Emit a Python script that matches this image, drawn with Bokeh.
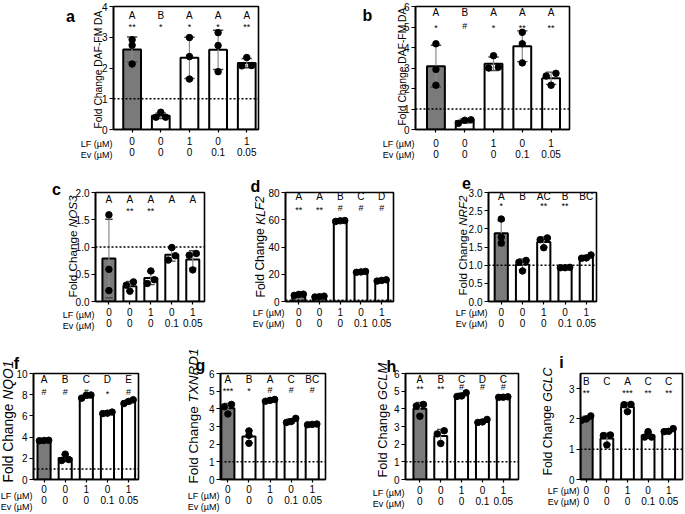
import math
from bokeh.plotting import figure
from bokeh.layouts import column, row
from bokeh.models import FixedTicker, LinearAxis, Range1d, Span, NumeralTickFormatter, GridBox
from bokeh.core.properties import value
from bokeh.embed import file_html
from bokeh.resources import INLINE

FONT = "Liberation Sans"

# ---------------- data ----------------
GROUPS = [0, 1, 2, 3, 4]
LF_DOSE = ["0", "0", "1", "0", "1"]
EV_DOSE = ["0", "0", "0", "0.1", "0.05"]

A_MEAN = [2.60, 0.45, 2.33, 2.59, 2.16]
A_SD = [0.41, 0.09, 0.67, 0.64, 0.15]
A_PTS = [[2.92, 2.74, 2.13], [0.56, 0.40, 0.40], [2.99, 2.37, 1.64], [3.15, 2.73, 1.88], [2.34, 2.08, 2.07]]
A_LET = ["A", "B", "A", "A", "A"]
A_SIG = ["**", "*", "*", "*", "**"]

B_MEAN = [3.09, 0.41, 3.21, 4.06, 2.50]
B_SD = [1.02, 0.09, 0.33, 0.75, 0.30]
B_PTS = [[4.18, 2.93, 2.16], [0.30, 0.45, 0.47], [3.60, 3.00, 3.04], [4.74, 4.18, 3.25], [2.74, 2.61, 2.16]]
B_LET = ["A", "B", "A", "A", "A"]
B_SIG = ["*", "#", "*", "**", "**"]

C_MEAN = [0.79, 0.28, 0.43, 0.86, 0.77]
C_SD = [0.72, 0.09, 0.12, 0.12, 0.16]
C_PTS = [[1.59, 0.59, 0.20], [0.36, 0.30, 0.19], [0.56, 0.40, 0.33], [0.99, 0.84, 0.76], [0.88, 0.85, 0.58]]
C_LET = ["A", "A", "A", "A", "A"]
C_SIG = ["", "**", "**", "", ""]

D_MEAN = [5.0, 3.6, 59.1, 21.7, 15.5]
D_SD = [0.5, 0.3, 0.3, 0.35, 0.45]
D_PTS = [[5.4, 5.2, 4.5], [3.9, 3.5, 3.3], [59.4, 59.2, 58.8], [22.1, 21.7, 21.4], [15.9, 15.5, 15.0]]
D_LET = ["A", "A", "B", "C", "D"]
D_SIG = ["**", "**", "#", "#", "#"]

E_MEAN = [1.88, 1.02, 1.64, 0.93, 1.22]
E_SD = [0.35, 0.15, 0.14, 0.01, 0.05]
E_PTS = [[2.27, 1.77, 1.61], [1.13, 1.08, 0.84], [1.75, 1.70, 1.48], [0.94, 0.93, 0.93], [1.28, 1.20, 1.19]]
E_LET = ["A", "B", "AC", "B", "BC"]
E_SIG = ["*", "", "**", "**", ""]

F_MEAN = [3.68, 2.02, 7.86, 6.28, 7.35]
F_SD = [0.02, 0.32, 0.17, 0.07, 0.18]
F_PTS = [[3.70, 3.68, 3.66], [2.39, 1.88, 1.79], [7.97, 7.95, 7.67], [6.36, 6.26, 6.22], [7.52, 7.37, 7.16]]
F_LET = ["A", "B", "C", "D", "E"]
F_SIG = ["#", "#", "#", "*", "#"]

G_MEAN = [4.03, 2.43, 4.48, 3.32, 3.12]
G_SD = [0.28, 0.35, 0.05, 0.12, 0.02]
G_PTS = [[4.25, 4.12, 3.71], [2.75, 2.50, 2.05], [4.53, 4.48, 4.43], [3.46, 3.28, 3.23], [3.14, 3.12, 3.10]]
G_LET = ["A", "B", "A", "C", "BC"]
G_SIG = ["***", "*", "#", "#", "#"]

H_MEAN = [4.00, 2.46, 4.78, 3.30, 4.66]
H_SD = [0.36, 0.37, 0.11, 0.09, 0.02]
H_PTS = [[4.25, 4.16, 3.58], [2.76, 2.58, 2.04], [4.91, 4.73, 4.70], [3.40, 3.26, 3.23], [4.68, 4.66, 4.65]]
H_LET = ["A", "B", "C", "D", "C"]
H_SIG = ["**", "**", "#", "#", "#"]

I_MEAN = [2.02, 1.35, 2.40, 1.46, 1.62]
I_SD = [0.07, 0.18, 0.14, 0.10, 0.06]
I_PTS = [[2.10, 2.00, 1.96], [1.47, 1.45, 1.14], [2.48, 2.47, 2.24], [1.58, 1.40, 1.40], [1.68, 1.59, 1.58]]
I_LET = ["B", "C", "A", "C", "C"]
I_SIG = ["**", "", "***", "**", "**"]

A_Y = (4, [0, 1, 2, 3, 4])
B_Y = (6, [0, 1, 2, 3, 4, 5, 6])
C_Y = (2, [0, 0.5, 1.0, 1.5, 2.0])
D_Y = (80, [0, 20, 40, 60, 80])
E_Y = (3, [0, 0.5, 1.0, 1.5, 2.0, 2.5, 3.0])
F_Y = (10, [0, 2, 4, 6, 8, 10])
G_Y = (6, [0, 1, 2, 3, 4, 5, 6])
H_Y = (6, [0, 1, 2, 3, 4, 5, 6])
I_Y = (3.5, [0, 1, 2, 3])

ADV = {" ": 278, "F": 611, "o": 556, "l": 222, "d": 556, "C": 722, "h": 556, "a": 556,
       "n": 556, "g": 556, "e": 556}

W_PAGE, H_PAGE = 684, 513


def text_w(s, fs):
    return sum(ADV.get(ch, 600) for ch in s) * fs / 1000.0


def jitter(vals, thr):
    order = sorted(range(len(vals)), key=lambda k: vals[k])
    clusters, cur = [], [order[0]]
    for k in order[1:]:
        if vals[k] - vals[cur[-1]] < thr:
            cur.append(k)
        else:
            clusters.append(cur)
            cur = [k]
    clusters.append(cur)
    offs = [0.0] * len(vals)
    for cl in clusters:
        n = len(cl)
        step = 0.34 if n == 2 else 0.22
        for j, k in enumerate(cl):
            offs[k] = (j - (n - 1) / 2) * step
    return offs


# texts that sit outside the plot frames (page pixel coordinates, y downwards)
OV = {"x": [], "y": [], "text": [], "angle": [], "align": [], "style": [], "size": []}


def ov(x, y, text, angle=0.0, align="center", style="normal", size="10px"):
    OV["x"].append(x)
    OV["y"].append(y)
    OV["text"].append(text)
    OV["angle"].append(angle)
    OV["align"].append(align)
    OV["style"].append(style)
    OV["size"].append(size)


def panel(letter, origin, geo, yinfo, mean, sd, pts, lets, sigs, gene, look):
    ox, oy = origin
    w, h, bl, br, bt, bb, x0, x1 = geo
    ymax, yticks = yinfo
    fh = h - bt - bb
    p = figure(width=w, height=h, x_range=Range1d(x0, x1), y_range=Range1d(0, ymax),
               output_backend="svg", toolbar_location=None,
               min_border_left=bl, min_border_right=br, min_border_top=bt, min_border_bottom=bb)
    p.outline_line_color = "black"
    p.outline_line_width = 1.6
    p.xgrid.visible = False
    p.ygrid.visible = False
    p.background_fill_color = "white"
    p.border_fill_color = "white"

    s1 = look["s1"]
    xa = p.xaxis[0]
    xa.ticker = FixedTicker(ticks=GROUPS)
    xa.major_label_overrides = {g: t for g, t in zip(GROUPS, LF_DOSE)}
    xa.axis_line_width = 1.6
    xa.major_tick_out = 3
    xa.major_tick_in = 0
    xa.major_tick_line_width = 1.2
    xa.minor_tick_line_color = None
    xa.major_label_standoff = s1
    xa.major_label_text_font = FONT
    xa.major_label_text_font_size = "10px"
    xa.major_label_text_color = "black"

    ya = p.yaxis[0]
    ya.ticker = FixedTicker(ticks=yticks)
    if look.get("fmt"):
        ya.formatter = NumeralTickFormatter(format=look["fmt"])
    ya.axis_line_width = 1.6
    ya.major_tick_out = 4
    ya.major_tick_in = 0
    ya.major_tick_line_width = 1.2
    ya.minor_tick_line_color = None
    ya.major_label_standoff = 2
    ya.major_label_text_font = FONT
    ya.major_label_text_font_size = "10px"
    ya.major_label_text_color = "black"

    ev = LinearAxis(ticker=FixedTicker(ticks=GROUPS),
                    major_label_overrides={g: t for g, t in zip(GROUPS, EV_DOSE)},
                    axis_line_color=None, major_tick_line_color=None, minor_tick_line_color=None,
                    major_tick_out=0, major_tick_in=0, minor_tick_out=0, minor_tick_in=0,
                    major_label_standoff=0, major_label_text_font=FONT,
                    major_label_text_font_size="10px", major_label_text_color="black")
    p.add_layout(ev, "below")

    colors = ["#7a7a7a"] + ["white"] * (len(GROUPS) - 1)
    p.vbar(x=GROUPS, top=mean, width=look.get("bw", 0.62), fill_color=colors,
           line_color="black", line_width=2)
    lo = [m - s for m, s in zip(mean, sd)]
    hi = [m + s for m, s in zip(mean, sd)]
    p.segment(x0=GROUPS, y0=lo, x1=GROUPS, y1=hi, line_color="#8a8a8a", line_width=1.2)
    cap = 0.18
    xl = [g - cap for g in GROUPS]
    xr = [g + cap for g in GROUPS]
    p.segment(x0=xl, y0=hi, x1=xr, y1=hi, line_color="#4a4a4a", line_width=1.4)
    p.segment(x0=xl, y0=lo, x1=xr, y1=lo, line_color="#4a4a4a", line_width=1.4)
    dx, dy = [], []
    for g, vals in zip(GROUPS, pts):
        offs = jitter(vals, 0.04 * ymax)
        dx += [g + o for o in offs]
        dy += vals
    p.scatter(x=dx, y=dy, size=6.5, fill_color="black", line_color="black")

    p.add_layout(Span(location=1, dimension="width", line_color="black",
                      line_dash="2 2", line_width=1.5))

    lo_off, st_off = look["tops"]
    ylet = ymax * (1 - lo_off / fh)
    p.text(x=GROUPS, y=[ylet] * 5, text=lets, text_align="center", text_baseline="middle",
           text_font=value(FONT), text_font_size="10px", text_color="black")
    ysig = [ymax * (1 - (st_off + (0 if "#" in s else 2)) / fh) for s in sigs]
    p.text(x=GROUPS, y=ysig, text=sigs, text_align="center", text_baseline="middle",
           text_font=value(FONT), text_font_size="9px", text_color="black")

    fl = ox + bl
    fb = oy + h - bb
    lf_y = fb + 3 + s1 + 5.6
    ov(fl - 1, lf_y, "LF (\u00b5M)", align="right", size="9px")
    ov(fl - 1, lf_y + 11.2, "Ev (\u00b5M)", align="right", size="9px")
    lx, ly0, fs = look["ylab"]
    if gene is None:
        ov(fl + lx, fb - ly0, "Fold Change DAF-FM DA", angle=math.pi / 2, align="left",
           size=f"{fs}px")
    else:
        ov(fl + lx, fb - ly0, "Fold Change", angle=math.pi / 2, align="left", size=f"{fs}px")
        ov(fl + lx, fb - ly0 - text_w("Fold Change ", fs), gene, angle=math.pi / 2,
           align="left", style="italic", size=f"{fs}px")
    px_, py_ = look["tag"]
    ov(fl + px_, fb - py_, letter, style="bold", size="16px")
    return p


# row 1 (height 168)
pa = panel("a", (0, 0), (335, 168, 113, 77, 6, 37, -0.65, 4.41), A_Y, A_MEAN, A_SD, A_PTS, A_LET,
           A_SIG, None, dict(s1=4, tops=(9, 19), ylab=(-15, 3, 10.3), tag=(-43, 115)))
pb = panel("b", (335, 0), (349, 168, 80, 115, 4, 39, -0.71, 4.64), B_Y, B_MEAN, B_SD, B_PTS, B_LET,
           B_SIG, None, dict(s1=6, tops=(6, 20), ylab=(-13, 4, 10.3), tag=(-48, 114)))
# row 2 (height 174)
pc = panel("c", (0, 168), (230, 174, 95, 26, 24, 39, -0.64, 4.56), C_Y, C_MEAN, C_SD, C_PTS, C_LET,
           C_SIG, "NOS3", dict(s1=3, tops=(7, 17), ylab=(-23, 6, 11.7), tag=(-39, 114), fmt="0.0"))
pd_ = panel("d", (230, 168), (210, 174, 55, 47, 23, 41, -0.64, 4.57), D_Y, D_MEAN, D_SD, D_PTS,
            D_LET, D_SIG, "KLF2", dict(s1=3, tops=(4, 16), ylab=(-25, 4, 12.1), tag=(-30, 115)))
pe = panel("e", (440, 168), (244, 174, 48, 88, 23, 41, -0.60, 4.48), E_Y, E_MEAN, E_SD, E_PTS,
           E_LET, E_SIG, "NRF2",
           dict(s1=3, tops=(4, 12), ylab=(-26, 6, 11.6), tag=(-22, 119), fmt="0.0"))
# row 3 (height 171)
pf = panel("f", (0, 342), (180, 171, 33, 42, 31, 28, -0.50, 4.47), F_Y, F_MEAN, F_SD, F_PTS, F_LET,
           F_SIG, "NQO1", dict(s1=2, tops=(6, 20), ylab=(-25, 3, 13.8), tag=(-17, 122)))
pg = panel("g", (180, 342), (182, 171, 40, 37, 31, 28, -0.35, 4.63), G_Y, G_MEAN, G_SD, G_PTS,
           G_LET, G_SIG, "TXNRD1", dict(s1=2, tops=(6, 17), ylab=(-27, 2, 13.5), tag=(-20, 120)))
ph = panel("h", (362, 342), (181, 171, 43, 25, 27, 32, -0.69, 4.73), H_Y, H_MEAN, H_SD, H_PTS,
           H_LET, H_SIG, "GCLM", dict(s1=3, tops=(6, 14), ylab=(-23, 4, 12.9), tag=(-14, 115)))
pi_ = panel("i", (543, 342), (141, 171, 37, 2, 26, 34, -0.28, 4.67), I_Y, I_MEAN, I_SD, I_PTS,
            I_LET, I_SIG, "GCLC", dict(s1=3, tops=(8, 18), ylab=(-33, 4, 12.3), tag=(-19, 117)))

main = column(row(pa, pb), row(pc, pd_, pe), row(pf, pg, ph, pi_), width=W_PAGE, height=H_PAGE)

# transparent overlay carrying the labels that sit outside the plot frames
over = figure(width=W_PAGE, height=H_PAGE, x_range=Range1d(0, W_PAGE), y_range=Range1d(H_PAGE, 0),
              output_backend="svg", toolbar_location=None, x_axis_type=None, y_axis_type=None,
              min_border=0, min_border_left=0, min_border_right=0, min_border_top=0,
              min_border_bottom=0)
over.outline_line_color = None
over.background_fill_color = None
over.border_fill_color = None
over.grid.visible = False
over.text(x="x", y="y", text="text", angle="angle", text_align="align", text_font_style="style",
          text_font_size="size", text_baseline="middle", text_font=value(FONT), text_color="black",
          source=OV)

page = GridBox(children=[(main, 0, 0), (over, 0, 0)], width=W_PAGE, height=H_PAGE)
open("out.html", "w").write(file_html(page, INLINE))
